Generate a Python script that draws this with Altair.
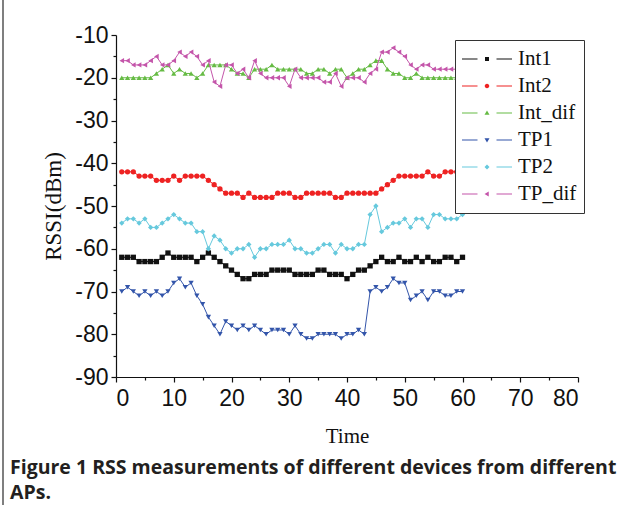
import altair as alt
import pandas as pd

series_names = ["Int1", "Int2", "Int_dif", "TP1", "TP2", "TP_dif"]
series_colors = ["#111111", "#ee2222", "#66bb44", "#3355aa", "#66c9dd", "#c455aa"]
marker_shapes = ["square", "circle", "triangle-up", "triangle-down", "diamond", "triangle-left"]

time = list(range(1, 61))
int1 = [-62, -62, -62, -63, -63, -63, -63, -62, -61, -62,
        -62, -62, -62, -63, -62, -61, -62, -63, -64, -65,
        -66, -67, -67, -66, -66, -66, -65, -65, -65, -65,
        -66, -66, -66, -66, -65, -65, -66, -66, -66, -67,
        -66, -65, -65, -64, -63, -62, -63, -63, -62, -63,
        -63, -62, -63, -62, -63, -63, -62, -62, -63, -62]
int2 = [-42, -42, -42, -43, -43, -43, -44, -44, -44, -43,
        -44, -43, -43, -43, -43, -44, -45, -46, -47, -47,
        -47, -48, -47, -48, -48, -48, -48, -47, -47, -47,
        -48, -48, -47, -47, -47, -47, -47, -48, -48, -47,
        -47, -47, -47, -47, -47, -46, -45, -44, -43, -43,
        -43, -43, -43, -42, -43, -43, -42, -42, -42, -42]
int_dif = [-20, -20, -20, -20, -20, -20, -19, -18, -17, -19,
           -18, -19, -19, -20, -19, -17, -17, -17, -17, -18,
           -19, -19, -20, -18, -18, -18, -17, -18, -18, -18,
           -18, -18, -19, -19, -18, -18, -19, -18, -18, -20,
           -19, -18, -18, -17, -16, -16, -18, -19, -19, -20,
           -20, -19, -20, -20, -20, -20, -20, -20, -20, -20]
tp1 = [-70, -69, -70, -71, -70, -71, -70, -71, -70, -68,
       -67, -69, -68, -71, -73, -76, -78, -80, -77, -78,
       -79, -78, -79, -78, -79, -80, -79, -79, -79, -80,
       -78, -80, -81, -81, -80, -80, -80, -80, -81, -80,
       -80, -79, -80, -70, -69, -70, -69, -67, -68, -68,
       -72, -71, -70, -72, -70, -70, -71, -71, -70, -70]
tp2 = [-54, -53, -53, -54, -53, -55, -55, -54, -53, -52,
       -53, -54, -54, -56, -56, -60, -57, -58, -60, -61,
       -60, -60, -59, -62, -60, -60, -59, -59, -59, -58,
       -60, -60, -61, -61, -60, -59, -59, -61, -59, -60,
       -60, -59, -59, -52, -50, -56, -55, -54, -54, -53,
       -55, -53, -53, -55, -52, -52, -53, -53, -53, -52]
tp_dif = [-16, -16, -17, -17, -17, -16, -15, -17, -17, -16,
          -14, -15, -14, -15, -17, -16, -21, -22, -17, -17,
          -19, -18, -20, -16, -19, -20, -20, -20, -20, -22,
          -18, -20, -20, -20, -20, -21, -21, -19, -22, -20,
          -20, -20, -21, -19, -18, -14, -14, -13, -14, -15,
          -17, -18, -17, -17, -18, -18, -18, -18, -18, -18]

x_major = [0, 10, 20, 30, 40, 50, 60, 70, 80]
x_minor = [5, 15, 25, 35, 45, 55, 65, 75]
y_major = [-90, -80, -70, -60, -50, -40, -30, -20, -10]
y_minor = [-85, -75, -65, -55, -45, -35, -25, -15]

caption = ["Figure 1 RSS measurements of different devices from different", "APs."]

all_series = [int1, int2, int_dif, tp1, tp2, tp_dif]
rows = []
for name, vals in zip(series_names, all_series):
    for t, v in zip(time, vals):
        rows.append({"time": t, "value": v, "series": name})
df = pd.DataFrame(rows)

# legend symbols: line - marker - line (drawn as filled paths)
seg = "M-1,-0.022H-0.38V0.022H-1Z M0.38,-0.022H1V0.022H0.38Z "
legend_paths = [
    seg + "M-0.08,-0.08H0.08V0.08H-0.08Z",
    seg + "M-0.09,0A0.09,0.09 0 1,0 0.09,0A0.09,0.09 0 1,0 -0.09,0Z",
    seg + "M0,-0.1L0.1,0.07L-0.1,0.07Z",
    seg + "M0,0.1L0.1,-0.07L-0.1,-0.07Z",
    seg + "M0,-0.1L0.1,0L0,0.1L-0.1,0Z",
    seg + "M-0.1,0L0.07,-0.1L0.07,0.1Z",
]

color_scale = alt.Scale(domain=series_names, range=series_colors)
x_scale = alt.Scale(domain=[0, 80], nice=False, zero=False)
y_scale = alt.Scale(domain=[-90, -10], nice=False, zero=False)

tick_font = "Liberation Sans Narrow, Liberation Sans, Arial"

x_axis = alt.Axis(values=x_major, labelExpr="'' + datum.value", title="Time", orient="bottom",
                  labelFont=tick_font, labelFontSize=23, labelColor="#111111",
                  labelPadding=5, tickSize=5, tickColor="#111111", tickWidth=1.2,
                  domainColor="#111111", domainWidth=1.2, grid=False,
                  titleFont="Liberation Serif", titleFontSize=21, titleFontWeight="normal",
                  titleColor="#111111", titlePadding=15)
y_axis = alt.Axis(values=y_major, labelExpr="'' + datum.value", title="RSSI(dBm)", orient="left",
                  labelFont=tick_font, labelFontSize=23, labelColor="#111111",
                  labelPadding=3, tickSize=5, tickColor="#111111", tickWidth=1.2,
                  domainColor="#111111", domainWidth=1.2, grid=False,
                  titleFont="Liberation Serif", titleFontSize=23, titleFontWeight="normal",
                  titleColor="#111111", titlePadding=9)

base = alt.Chart(df)

layers = []
first = True
for name, shp, col in zip(series_names, marker_shapes, series_colors):
    sub = base.transform_filter(alt.datum.series == name)
    if first:
        xe = alt.X("time:Q", scale=x_scale, axis=x_axis)
        ye = alt.Y("value:Q", scale=y_scale, axis=y_axis)
        first = False
    else:
        xe = alt.X("time:Q", scale=x_scale)
        ye = alt.Y("value:Q", scale=y_scale)
    layers.append(sub.mark_line(strokeWidth=1, color=col).encode(x=xe, y=ye))
    layers.append(
        sub.mark_point(shape=shp, filled=True, size=28, opacity=1, color=col).encode(
            x=alt.X("time:Q", scale=x_scale),
            y=alt.Y("value:Q", scale=y_scale),
        )
    )

legend_props = dict(
    title=None, orient="none", legendX=339, legendY=5,
    symbolSize=2500, symbolStrokeWidth=0, symbolOpacity=1,
    labelFont="Liberation Serif", labelFontSize=21, labelColor="#111111",
    labelOffset=6, padding=7, rowPadding=3, clipHeight=24,
    strokeColor="#333333", fillColor="white", zindex=1,
)

legend_layer = base.transform_filter("false").mark_point(filled=True, opacity=1).encode(
    x=alt.X("time:Q", scale=x_scale),
    y=alt.Y("value:Q", scale=y_scale),
    color=alt.Color("series:N", scale=color_scale, legend=alt.Legend(**legend_props)),
    shape=alt.Shape("series:N", scale=alt.Scale(domain=series_names, range=legend_paths),
                    legend=alt.Legend(**legend_props)),
)

main = alt.layer(*layers, legend_layer)

minor = base.transform_filter("false").mark_point().encode(
    x=alt.X("time:Q", scale=x_scale,
            axis=alt.Axis(values=x_minor, orient="bottom", labels=False, domain=False,
                          tickSize=3, tickColor="#111111", tickWidth=1.2, grid=False, title=None)),
    y=alt.Y("value:Q", scale=y_scale,
            axis=alt.Axis(values=y_minor, orient="left", labels=False, domain=False,
                          tickSize=3, tickColor="#111111", tickWidth=1.2, grid=False, title=None)),
)

# left edge of the figure frame
frame = alt.Chart(pd.DataFrame({"k": [0]})).mark_rule(color="#555555", strokeWidth=1.5).encode(
    x=alt.value(-113), y=alt.value(-35), y2=alt.value(470),
)

chart = (
    alt.layer(main, minor, frame)
    .resolve_scale(x="independent", y="independent")
    .properties(
        width=462, height=342,
        autosize=alt.AutoSizeParams(type="none"),
        padding={"left": 116, "top": 35, "right": 47, "bottom": 134},
        title=alt.TitleParams(
            text=caption, orient="bottom", anchor="start", frame="group",
            dx=-106, offset=-47, font="Open Sans", fontSize=19.5, fontWeight="bold",
            color="#231f20", lineHeight=25,
        ),
        background="white",
    )
    .configure_view(strokeWidth=0)
)

chart.save("out.html", embed_options={"renderer": "svg", "actions": False})
